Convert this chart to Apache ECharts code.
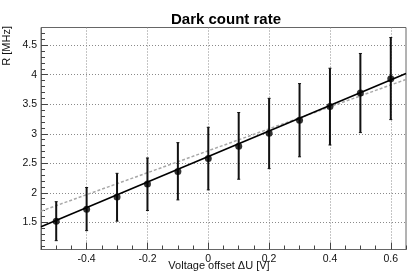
<!DOCTYPE html>
<html>
<head>
<meta charset="utf-8">
<script src="https://cdn.jsdelivr.net/npm/echarts@6/dist/echarts.min.js"></script>
<style>
html,body{margin:0;padding:0;background:#fff;}
#c{width:411px;height:279px;}
</style>
</head>
<body>
<div id="c"></div>
<script>
// ---- data ----
const offsets  = [-0.5, -0.4, -0.3, -0.2, -0.1, 0.0, 0.1, 0.2, 0.3, 0.4, 0.5, 0.6];
const rate     = [1.52, 1.72, 1.93, 2.15, 2.36, 2.58, 2.79, 3.01, 3.23, 3.46, 3.69, 3.93];
const rateLow  = [1.19, 1.36, 1.52, 1.70, 1.88, 2.05, 2.23, 2.41, 2.61, 2.81, 3.02, 3.24];
const rateHigh = [1.85, 2.09, 2.33, 2.59, 2.85, 3.11, 3.36, 3.60, 3.85, 4.11, 4.36, 4.63];
const fitX     = [-0.55, 0.65];
const fitY     = [1.426, 4.02];
const refX     = [-0.55, 0.65];
const refY     = [1.69, 3.92];
const xMajorTicks = [-0.4, -0.2, 0, 0.2, 0.4, 0.6];
const xMinorTicks = [-0.55,-0.5,-0.45,-0.35,-0.3,-0.25,-0.15,-0.1,-0.05,0.05,0.1,0.15,0.25,0.3,0.35,0.45,0.5,0.55,0.65];
const yMajorTicks = [1.5, 2, 2.5, 3, 3.5, 4, 4.5];
const yMinorTicks = [1.1,1.2,1.3,1.4,1.6,1.7,1.8,1.9,2.1,2.2,2.3,2.4,2.6,2.7,2.8,2.9,3.1,3.2,3.3,3.4,3.6,3.7,3.8,3.9,4.1,4.2,4.3,4.4,4.6,4.7];
const xRange = [-0.55, 0.65];
const yRange = [1.04, 4.8];

const FONT = '"Liberation Sans", Arial, sans-serif';
const AX = '#666';

const chart = echarts.init(document.getElementById('c'), null, {renderer: 'canvas'});

const mainX = {
  type: 'value', position: 'bottom', min: xRange[0], max: xRange[1],
  axisLine: {show: true, onZero: false, lineStyle: {color: AX, width: 1}},
  axisTick: {show: true, inside: true, length: 7, customValues: xMajorTicks, lineStyle: {color: '#444'}},
  axisLabel: {customValues: xMajorTicks, margin: 4, color: '#111', fontFamily: FONT, fontSize: 10.5,
              formatter: v => String(Math.round(v * 10) / 10)},
  splitLine: {show: true, lineStyle: {color: '#8a8a8a', type: [1, 2], width: 1}}
};
const minorX = {
  type: 'value', position: 'bottom', min: xRange[0], max: xRange[1],
  axisLine: {show: false, onZero: false},
  axisTick: {show: true, inside: true, length: 4, customValues: xMinorTicks, lineStyle: {color: '#444'}},
  axisLabel: {show: false},
  splitLine: {show: false}
};
const mainY = {
  type: 'value', position: 'left', min: yRange[0], max: yRange[1],
  axisLine: {show: true, onZero: false, lineStyle: {color: AX, width: 1}},
  axisTick: {show: true, inside: true, length: 7, customValues: yMajorTicks, lineStyle: {color: '#444'}},
  axisLabel: {customValues: yMajorTicks, margin: 4, color: '#111', fontFamily: FONT, fontSize: 10.5,
              formatter: v => String(v)},
  splitLine: {show: true, lineStyle: {color: '#8a8a8a', type: [1, 2], width: 1}}
};
const minorY = {
  type: 'value', position: 'left', min: yRange[0], max: yRange[1],
  axisLine: {show: false, onZero: false},
  axisTick: {show: true, inside: true, length: 4, customValues: yMinorTicks, lineStyle: {color: '#444'}},
  axisLabel: {show: false},
  splitLine: {show: false}
};

const errData = offsets.map((x, i) => [x, rateLow[i], rateHigh[i]]);

chart.setOption({
  animation: false,
  backgroundColor: '#fff',
  title: {
    text: 'Dark count rate', left: 221, top: 7, textAlign: 'center',
    textStyle: {fontFamily: FONT, fontSize: 15, fontWeight: 'bold', color: '#000'}
  },
  grid: {left: 41, right: 5, top: 27.5, bottom: 29.5, show: true, borderColor: AX, borderWidth: 1, backgroundColor: 'transparent'},
  xAxis: [mainX, minorX],
  yAxis: [mainY, minorY],
  graphic: [
    {type: 'text', x: 7, y: 26, rotation: Math.PI / 2,
     style: {text: 'R [MHz]', fill: '#111', font: '11px ' + FONT, textAlign: 'right', textVerticalAlign: 'middle'}},
    {type: 'text', x: 219, y: 266, 
     style: {text: 'Voltage offset \u0394U [V]', fill: '#111', font: '11px ' + FONT, textAlign: 'center', textVerticalAlign: 'middle'}}
  ],
  series: [
    {
      type: 'line', xAxisIndex: 0, yAxisIndex: 0, symbol: 'none',
      data: refX.map((x, i) => [x, refY[i]]),
      lineStyle: {color: '#a8a8a8', width: 1.5, type: [3, 2]}, z: 2
    },
    {
      type: 'line', xAxisIndex: 0, yAxisIndex: 0, symbol: 'none',
      data: fitX.map((x, i) => [x, fitY[i]]),
      lineStyle: {color: '#000', width: 1.6}, z: 3
    },
    {
      type: 'custom', xAxisIndex: 0, yAxisIndex: 0, z: 4,
      data: errData,
      renderItem: (params, api) => {
        const x = api.value(0);
        const top = api.coord([x, api.value(2)]);
        const bot = api.coord([x, api.value(1)]);
        const st = {stroke: '#111', lineWidth: 2};
        return {type: 'group', children: [
          {type: 'line', shape: {x1: top[0], y1: top[1], x2: bot[0], y2: bot[1]}, style: st},
          {type: 'line', shape: {x1: top[0] - 1.5, y1: top[1], x2: top[0] + 1.5, y2: top[1]}, style: {stroke: '#111', lineWidth: 1}},
          {type: 'line', shape: {x1: bot[0] - 1.5, y1: bot[1], x2: bot[0] + 1.5, y2: bot[1]}, style: {stroke: '#111', lineWidth: 1}}
        ]};
      }
    },
    {
      type: 'scatter', xAxisIndex: 0, yAxisIndex: 0, z: 5,
      data: offsets.map((x, i) => [x, rate[i]]),
      symbol: 'circle', symbolSize: 7,
      itemStyle: {color: '#000'}
    }
  ]
});
</script>
</body>
</html>
